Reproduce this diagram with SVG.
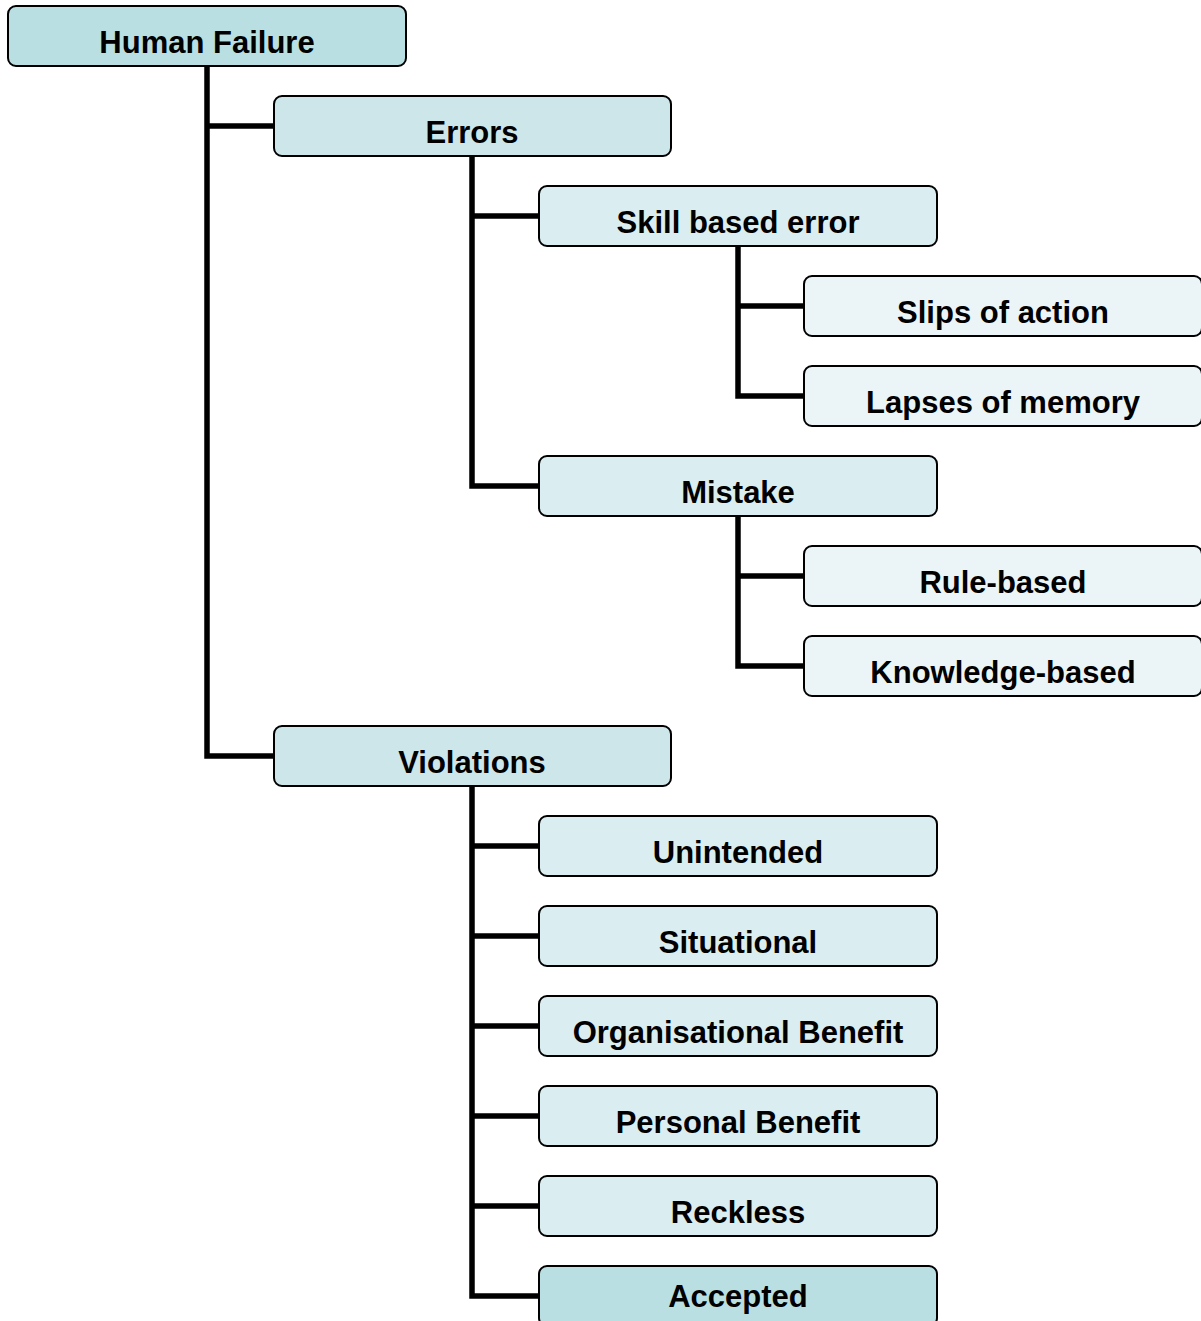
<svg xmlns="http://www.w3.org/2000/svg" width="1201" height="1321" viewBox="0 0 1201 1321">
<style>
.box{stroke:#000;stroke-width:2}
.l0{fill:#b9dfe3}
.l1{fill:#cde6ea}
.l2{fill:#daedf0}
.l3{fill:#ebf5f7}
.t{font-family:"Liberation Sans",Arial,sans-serif;font-weight:bold;font-size:31px;text-anchor:middle;fill:#000}
.c{fill:none;stroke:#000;stroke-width:5.5}
</style>
<rect width="1201" height="1321" fill="#fff"/>
<g id="connectors">
<path class="c" d="M207,66 V756 H274 M207,126 H274"/>
<path class="c" d="M472,156 V486 H539 M472,216 H539"/>
<path class="c" d="M738,246 V396 H804 M738,306 H804"/>
<path class="c" d="M738,516 V666 H804 M738,576 H804"/>
<path class="c" d="M472,786 V1296 H539 M472,846 H539 M472,936 H539 M472,1026 H539 M472,1116 H539 M472,1206 H539"/>
</g>
<g id="human-failure"><rect class="box l0" x="8" y="6" width="398" height="60" rx="8"/><text class="t" x="207" y="53">Human Failure</text></g>
<g id="errors"><rect class="box l1" x="274" y="96" width="397" height="60" rx="8"/><text class="t" x="472" y="143">Errors</text></g>
<g id="skill-based-error"><rect class="box l2" x="539" y="186" width="398" height="60" rx="8"/><text class="t" x="738" y="233">Skill based error</text></g>
<g id="slips-of-action"><rect class="box l3" x="804" y="276" width="398" height="60" rx="8"/><text class="t" x="1003" y="323">Slips of action</text></g>
<g id="lapses-of-memory"><rect class="box l3" x="804" y="366" width="398" height="60" rx="8"/><text class="t" x="1003" y="413">Lapses of memory</text></g>
<g id="mistake"><rect class="box l2" x="539" y="456" width="398" height="60" rx="8"/><text class="t" x="738" y="503">Mistake</text></g>
<g id="rule-based"><rect class="box l3" x="804" y="546" width="398" height="60" rx="8"/><text class="t" x="1003" y="593">Rule-based</text></g>
<g id="knowledge-based"><rect class="box l3" x="804" y="636" width="398" height="60" rx="8"/><text class="t" x="1003" y="683">Knowledge-based</text></g>
<g id="violations"><rect class="box l1" x="274" y="726" width="397" height="60" rx="8"/><text class="t" x="472" y="773">Violations</text></g>
<g id="unintended"><rect class="box l2" x="539" y="816" width="398" height="60" rx="8"/><text class="t" x="738" y="863">Unintended</text></g>
<g id="situational"><rect class="box l2" x="539" y="906" width="398" height="60" rx="8"/><text class="t" x="738" y="953">Situational</text></g>
<g id="organisational-benefit"><rect class="box l2" x="539" y="996" width="398" height="60" rx="8"/><text class="t" x="738" y="1043">Organisational Benefit</text></g>
<g id="personal-benefit"><rect class="box l2" x="539" y="1086" width="398" height="60" rx="8"/><text class="t" x="738" y="1133">Personal Benefit</text></g>
<g id="reckless"><rect class="box l2" x="539" y="1176" width="398" height="60" rx="8"/><text class="t" x="738" y="1223">Reckless</text></g>
<g id="accepted"><rect class="box l0" x="539" y="1266" width="398" height="60" rx="8"/><text class="t" x="738" y="1307">Accepted</text></g>
</svg>
